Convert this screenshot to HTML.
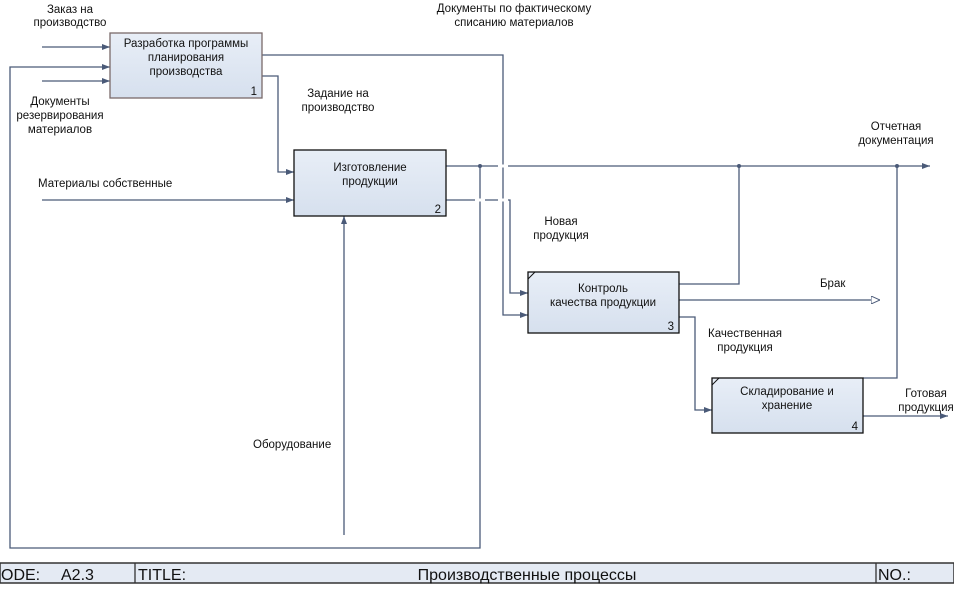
<!DOCTYPE html>
<html><head><meta charset="utf-8"><style>
body{margin:0;width:954px;height:585px;background:#fff;overflow:hidden;font-family:"Liberation Sans",sans-serif}
</style></head><body>
<svg width="954" height="585" xmlns="http://www.w3.org/2000/svg" font-family="Liberation Sans, sans-serif" font-size="11.5" fill="#111">
<defs>
<marker id="a" markerWidth="8" markerHeight="6" refX="8" refY="3" orient="auto" markerUnits="userSpaceOnUse"><path d="M0,0 L8,3 L0,6z" fill="#4a5a78"/></marker>
<marker id="o" markerWidth="9" markerHeight="8" refX="9" refY="4" orient="auto" markerUnits="userSpaceOnUse"><path d="M0,0 L9,4 L0,8z" fill="#fff" stroke="#4a5a78"/></marker>
<linearGradient id="g" x1="0" y1="0" x2="0" y2="1"><stop offset="0" stop-color="#e8eef7"/><stop offset="1" stop-color="#d6e0ee"/></linearGradient>
</defs>
<g stroke="#4a5a78" stroke-width="1.3" fill="none">
<path d="M42,47H110" marker-end="url(#a)"/>
<path d="M42,81H110" marker-end="url(#a)"/>
<path d="M480,166V548H10V67H110" marker-end="url(#a)"/>
<path d="M262,55H503V315H528" marker-end="url(#a)"/>
<path d="M262,76H278V172H294" marker-end="url(#a)"/>
<path d="M42,200H294" marker-end="url(#a)"/>
<path d="M344,535V216" marker-end="url(#a)"/>
<path d="M446,166H930" marker-end="url(#a)"/>
<path d="M446,200H510V293H528" marker-end="url(#a)"/>
<path d="M679,284H739V166"/>
<path d="M679,300H880" marker-end="url(#o)"/>
<path d="M679,317H695V410H712" marker-end="url(#a)"/>
<path d="M863,378H897V166"/>
<path d="M863,416H948" marker-end="url(#a)"/>
</g>
<g stroke="#fff" stroke-width="3"><path d="M498,166H508M475,200H485M498,200H508"/></g>
<g fill="#4a5a78"><circle cx="480" cy="166" r="2"/><circle cx="739" cy="166" r="2"/><circle cx="897" cy="166" r="2"/></g>
<g fill="url(#g)">
<rect x="110" y="33" width="152" height="65" stroke="#7a6a6a" stroke-width="1.3"/>
<rect x="294" y="150" width="152" height="66" stroke="#111" stroke-width="1.3"/>
<rect x="528" y="272" width="151" height="61" stroke="#111" stroke-width="1.3"/>
<rect x="712" y="378" width="151" height="55" stroke="#111" stroke-width="1.3"/>
</g>
<path d="M528,279L535,272M712,385L719,378" stroke="#111"/>
<g text-anchor="middle">
<text x="186" y="47">Разработка программы</text><text x="186" y="61">планирования</text><text x="186" y="75">производства</text>
<text x="370" y="171">Изготовление</text><text x="370" y="185">продукции</text>
<text x="603" y="292">Контроль</text><text x="603" y="306">качества продукции</text>
<text x="787" y="395">Складирование и</text><text x="787" y="409">хранение</text>
<text x="70" y="13">Заказ на</text><text x="70" y="26">производство</text>
<text x="60" y="105">Документы</text><text x="60" y="119">резервирования</text><text x="60" y="133">материалов</text>
<text x="338" y="97">Задание на</text><text x="338" y="111">производство</text>
<text x="514" y="12">Документы по фактическому</text><text x="514" y="26">списанию материалов</text>
<text x="896" y="130">Отчетная</text><text x="896" y="144">документация</text>
<text x="561" y="225">Новая</text><text x="561" y="239">продукция</text>
<text x="745" y="337">Качественная</text><text x="745" y="351">продукция</text>
<text x="926" y="397">Готовая</text><text x="926" y="411">продукция</text>
</g>
<text x="38" y="187">Материалы собственные</text>
<text x="253" y="448">Оборудование</text>
<text x="820" y="287">Брак</text>
<g text-anchor="end"><text x="257" y="95">1</text><text x="441" y="213">2</text><text x="674" y="330">3</text><text x="858" y="430">4</text></g>
<rect x="0" y="563" width="954" height="20" fill="#e4eaf3" stroke="#333" stroke-width="1.5"/>
<path d="M135,563V583M876,563V583" stroke="#333" stroke-width="1.3"/>
<g font-size="16"><text x="1" y="580">ODE:</text><text x="61" y="580">A2.3</text><text x="138" y="580">TITLE:</text><text x="527" y="580" text-anchor="middle">Производственные процессы</text><text x="878" y="580">NO.:</text></g>
</svg>
</body></html>
